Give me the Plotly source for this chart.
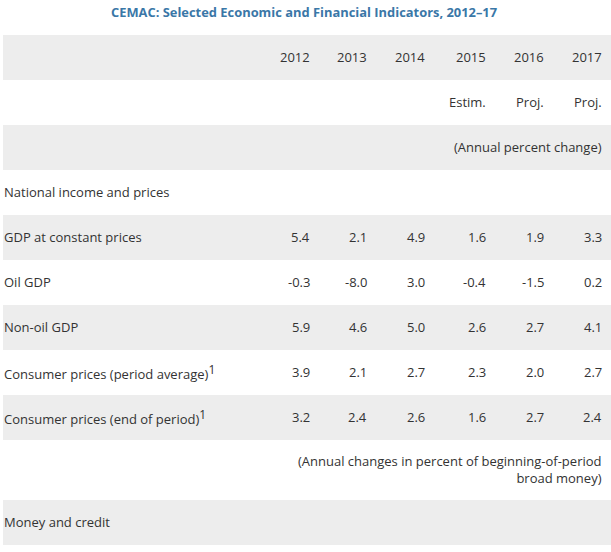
import plotly.graph_objects as go

# ---- data ----
title = "CEMAC: Selected Economic and Financial Indicators, 2012\u201317"
years = ["2012", "2013", "2014", "2015", "2016", "2017"]
status = ["", "", "", "Estim.", "Proj.", "Proj."]
note_annual = "(Annual percent change)"
note_money = "(Annual changes in percent of beginning-of-period<br>broad money)"
section_income = "National income and prices"
section_money = "Money and credit"

row_names = [
    "GDP at constant prices",
    "Oil GDP",
    "Non-oil GDP",
    "Consumer prices (period average)<sup><span style='font-size:12px'>1</span></sup>",
    "Consumer prices (end of period)<sup><span style='font-size:12px'>1</span></sup>",
]
gdp = [5.4, 2.1, 4.9, 1.6, 1.9, 3.3]
oil_gdp = [-0.3, -8.0, 3.0, -0.4, -1.5, 0.2]
nonoil_gdp = [5.9, 4.6, 5.0, 2.6, 2.7, 4.1]
cpi_avg = [3.9, 2.1, 2.7, 2.3, 2.0, 2.7]
cpi_eop = [3.2, 2.4, 2.6, 1.6, 2.7, 2.4]
series = [gdp, oil_gdp, nonoil_gdp, cpi_avg, cpi_eop]

# ---- layout styles ----
W, H = 611, 552
table_top = 35
row_h = 45
tall_row_h = 60
table_left = 3
label_x = 2
col_right = [312, 369, 427, 488, 546, 604]
gray = "#ededed"
txt = "#333333"
font_family = "Open Sans, Lato, sans-serif"
fs = 13

# rows: (kind, payload)
rows = [("years", None), ("status", None), ("note", note_annual),
        ("label", section_income)]
for name, vals in zip(row_names, series):
    rows.append(("data", (name, vals)))
rows.append(("note", note_money))
rows.append(("label", section_money))

fig = go.Figure()
shapes = []
annotations = []

y = table_top
for i, (kind, payload) in enumerate(rows):
    h = tall_row_h if (kind == "note" and "<br>" in payload) else row_h
    yc = y + h / 2 - 1
    if i % 2 == 0:
        shapes.append(dict(type="rect", xref="x", yref="y", x0=table_left, x1=W,
                           y0=y, y1=y + h, fillcolor=gray, line_width=0, layer="below"))
    if kind == "years":
        for xr, t in zip(col_right, years):
            annotations.append(dict(x=xr, y=yc, text=t, xanchor="right", yanchor="middle"))
    elif kind == "status":
        for xr, t in zip(col_right, status):
            if t:
                annotations.append(dict(x=xr, y=yc, text=t, xanchor="right", yanchor="middle"))
    elif kind == "note":
        annotations.append(dict(x=col_right[-1], y=yc, text=payload, xanchor="right",
                                yanchor="middle", align="right"))
    elif kind == "label":
        annotations.append(dict(x=label_x, y=yc, text=payload, xanchor="left", yanchor="middle"))
    elif kind == "data":
        name, vals = payload
        annotations.append(dict(x=label_x, y=yc, text=name, xanchor="left", yanchor="middle"))
        for xr, v in zip(col_right, vals):
            annotations.append(dict(x=xr, y=yc, text=f"{v:.1f}", xanchor="right", yanchor="middle"))
    y += h

for a in annotations:
    a.update(xref="x", yref="y", showarrow=False,
             font=dict(family=font_family, size=fs, color=txt))

annotations.append(dict(x=304, y=12, xref="x", yref="y", text=f"<b>{title}</b>",
                        showarrow=False, xanchor="center", yanchor="middle",
                        font=dict(family=font_family, size=12.9, color="#3a77a7")))

fig.update_layout(
    width=W, height=H,
    margin=dict(l=0, r=0, t=0, b=0),
    paper_bgcolor="white", plot_bgcolor="white",
    xaxis=dict(range=[0, W], visible=False, fixedrange=True),
    yaxis=dict(range=[H, 0], visible=False, fixedrange=True),
    shapes=shapes, annotations=annotations,
    showlegend=False,
)
fig.write_html(
    "out.html",
    config={"displayModeBar": False},
    post_script="document.body.style.margin='0';document.body.style.overflow='hidden';",
)
